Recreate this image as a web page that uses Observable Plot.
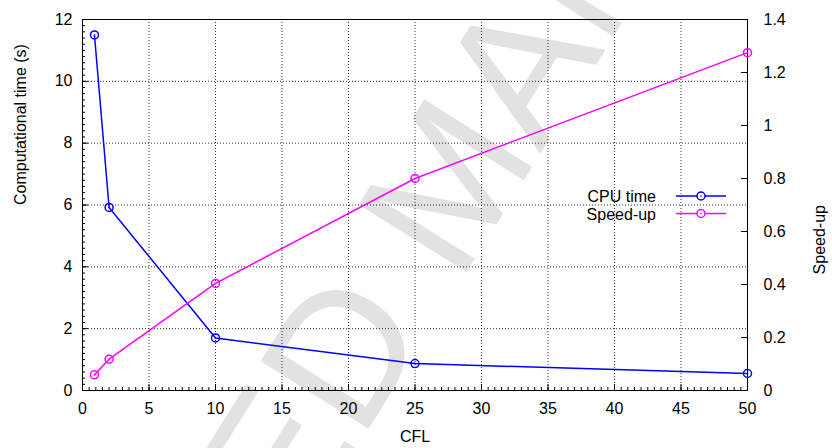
<!DOCTYPE html>
<html><head><meta charset="utf-8">
<script src="https://cdn.jsdelivr.net/npm/d3@7"></script>
<script src="https://cdn.jsdelivr.net/npm/@observablehq/plot@0.6"></script>
<style>html,body{margin:0;padding:0;background:#fff}</style>
</head><body><div id="chart"></div>
<script>
// ---- data ----
const cfl = [0.9, 2, 10, 25, 50];
const cpuTime = [11.5, 5.92, 1.7, 0.87, 0.55];
const speedUp = [0.059, 0.118, 0.404, 0.80, 1.275];
const seriesNames = ["CPU time", "Speed-up"];
const seriesColors = ["#0000ff", "#ff00ff"];
const xTicks = [0, 5, 10, 15, 20, 25, 30, 35, 40, 45, 50];
const yTicks = [0, 2, 4, 6, 8, 10, 12];
const y2Ticks = [0, 0.2, 0.4, 0.6, 0.8, 1, 1.2, 1.4];
const xLabel = "CFL";
const yLabel = "Computational time (s)";
const y2Label = "Speed-up";
const watermark = "ACCEPTED MANUSCRIPT";

// ---- layout ----
const W = 832, H = 448, mL = 82, mR = 85, mT = 19, mB = 58;
const innerW = W - mL - mR, innerH = H - mT - mB;
const yMax = yTicks[yTicks.length - 1], y2Max = y2Ticks[y2Ticks.length - 1];
const k = yMax / y2Max;
const xMinor = d3.range(0, 50.001, 0.5);
const yMinor = d3.range(0, 12.001, 0.2);

const cpuData = cfl.map((x, i) => ({x, v: cpuTime[i]}));
const spdData = cfl.map((x, i) => ({x, v: speedUp[i] * k}));
const gridStyle = {stroke: "#000", strokeOpacity: 0.8, strokeDasharray: "1,2", strokeWidth: 1};
const FONT = "16px";

const chart = Plot.plot({
  width: W, height: H,
  marginLeft: mL, marginRight: mR, marginTop: mT, marginBottom: mB,
  style: {fontFamily: "'Liberation Sans', Arial, sans-serif", fontSize: FONT, background: "#fff", color: "#000"},
  x: {domain: [0, 50]},
  y: {domain: [0, yMax]},
  marks: [
    Plot.gridX(xTicks.filter(v => v > 0 && v < 50), gridStyle),
    Plot.gridY(yTicks.filter(v => v > 0 && v < yMax), gridStyle),
    Plot.ruleX(xMinor, {insetTop: innerH - 3, stroke: "#000"}),
    Plot.ruleX(xTicks, {insetTop: innerH - 6, stroke: "#000"}),
    Plot.ruleY(yMinor, {insetRight: innerW - 3, stroke: "#000"}),
    Plot.ruleY(yTicks, {insetRight: innerW - 6, stroke: "#000"}),
    Plot.ruleY(y2Ticks.map(v => v * k), {insetLeft: innerW - 6, stroke: "#000"}),
    Plot.axisX(xTicks, {anchor: "bottom", tickSize: 0, tickPadding: 12, label: null, fontSize: FONT}),
    Plot.axisY(yTicks, {anchor: "left", tickSize: 0, tickPadding: 10, label: null, fontSize: FONT}),
    Plot.axisY(y2Ticks.map(v => v * k), {anchor: "right", tickSize: 0, tickPadding: 16, label: null, fontSize: FONT,
      tickFormat: d => String(+(d / k).toFixed(1)), textAnchor: "start"}),
    Plot.frame({stroke: "#000"}),
    Plot.line(cpuData, {x: "x", y: "v", stroke: seriesColors[0], strokeWidth: 1.5}),
    Plot.line(spdData, {x: "x", y: "v", stroke: seriesColors[1], strokeWidth: 1.5}),
    Plot.dot(cpuData, {x: "x", y: "v", r: 4, stroke: seriesColors[0], strokeWidth: 1.5, fill: "none"}),
    Plot.dot(spdData, {x: "x", y: "v", r: 4, stroke: seriesColors[1], strokeWidth: 1.5, fill: "none"}),
    Plot.dot(cpuData, {x: "x", y: "v", r: 0.8, fill: seriesColors[0], stroke: "none"}),
    Plot.dot(spdData, {x: "x", y: "v", r: 0.8, fill: seriesColors[1], stroke: "none"}),
    Plot.text([xLabel], {frameAnchor: "bottom", text: d => d, dy: 51, lineAnchor: "bottom", fontSize: FONT}),
    Plot.text([yLabel], {frameAnchor: "left", text: d => d, rotate: -90, dx: -57, lineAnchor: "bottom", fontSize: FONT}),
    Plot.text([y2Label], {frameAnchor: "right", text: d => d, rotate: -90, dx: 77, lineAnchor: "bottom", fontSize: FONT})
  ]
});
document.getElementById("chart").appendChild(chart);

const svg = d3.select(chart);
// watermark (behind everything)
svg.insert("text", ":first-child")
  .attr("transform", "translate(502,215) rotate(-58)")
  .attr("text-anchor", "middle")
  .attr("font-family", "'Liberation Sans', Arial, sans-serif")
  .attr("font-size", 185)
  .attr("fill", "#e2e2e2")
  .text(watermark);

// legend
const leg = svg.append("g").attr("font-family", "'Liberation Sans', Arial, sans-serif").attr("font-size", FONT);
seriesNames.forEach((name, i) => {
  const y = 196 + i * 17.5;
  leg.append("text").attr("x", 656).attr("y", y + 6).attr("text-anchor", "end").attr("fill", "#000").text(name);
  leg.append("line").attr("x1", 676).attr("x2", 726).attr("y1", y).attr("y2", y)
    .attr("stroke", seriesColors[i]).attr("stroke-width", 1.5);
  leg.append("circle").attr("cx", 701).attr("cy", y).attr("r", 4).attr("fill", "#fff")
    .attr("stroke", seriesColors[i]).attr("stroke-width", 1.5);
  leg.append("circle").attr("cx", 701).attr("cy", y).attr("r", 0.8).attr("fill", seriesColors[i]);
});
</script>
</body></html>
